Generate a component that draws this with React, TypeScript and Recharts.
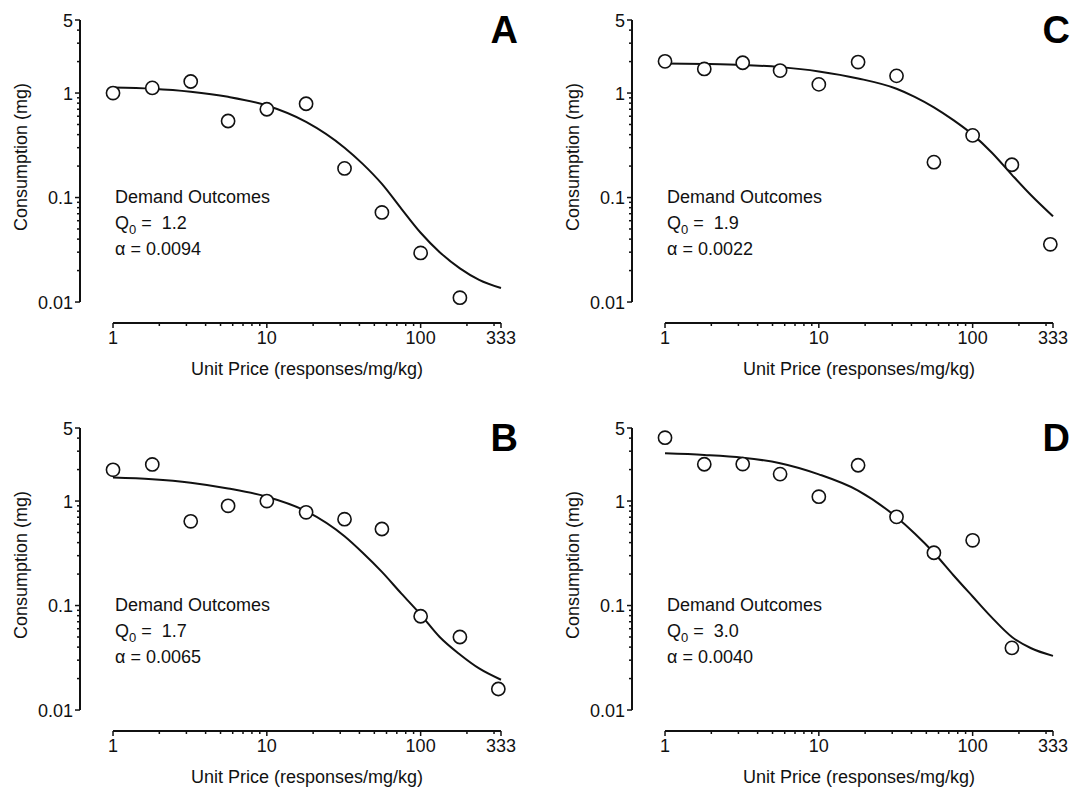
import { ComposedChart, Line, Scatter, XAxis, YAxis, ReferenceLine, Label } from 'recharts';

// unit prices where consumption was measured
const PRICE = [1, 1.8, 3.2, 5.6, 10, 18, 32, 56, 100, 180, 320];
// prices used to trace the fitted demand curve
const CURVE_PRICE = [1, 1.8, 3.2, 5.6, 10, 18, 32, 42, 56, 75, 100, 133, 180, 240, 333];

const POINTS_A = [1.0, 1.12, 1.29, 0.54, 0.7, 0.79, 0.19, 0.072, 0.0295, 0.011];
const POINTS_B = [1.99, 2.24, 0.64, 0.9, 1.0, 0.78, 0.67, 0.54, 0.079, 0.05, 0.0159];
const POINTS_C = [2.01, 1.7, 1.95, 1.64, 1.21, 1.98, 1.46, 0.218, 0.393, 0.206, 0.0357];
const POINTS_D = [4.04, 2.25, 2.26, 1.81, 1.1, 2.2, 0.706, 0.32, 0.421, 0.0393];

const CURVE_A = [1.13, 1.1, 1.03, 0.92, 0.76, 0.53, 0.3, 0.21, 0.135, 0.078, 0.046, 0.03, 0.021, 0.0163, 0.0136];
const CURVE_B = [1.68, 1.62, 1.5, 1.32, 1.1, 0.8, 0.46, 0.32, 0.21, 0.13, 0.082, 0.05, 0.034, 0.025, 0.0195];
const CURVE_C = [1.92, 1.9, 1.86, 1.77, 1.61, 1.38, 1.1, 0.92, 0.73, 0.55, 0.4, 0.27, 0.165, 0.105, 0.066];
const CURVE_D = [2.86, 2.76, 2.6, 2.3, 1.8, 1.26, 0.7, 0.49, 0.32, 0.195, 0.122, 0.077, 0.05, 0.039, 0.033];

const Q0 = { A: '1.2', B: '1.7', C: '1.9', D: '3.0' };
const ALPHA = { A: '0.0094', B: '0.0065', C: '0.0022', D: '0.0040' };

const X_MAJOR = [1, 10, 100, 333];
const X_MINOR = [2, 3, 4, 5, 6, 7, 8, 9, 20, 30, 40, 50, 60, 70, 80, 90, 200, 300];
const Y_MAJOR = [0.01, 0.1, 1, 5];
const Y_MINOR = [0.02, 0.03, 0.04, 0.05, 0.06, 0.07, 0.08, 0.09, 0.2, 0.3, 0.4, 0.5, 0.6, 0.7, 0.8, 0.9, 2, 3, 4];

const X_TICKS = [...X_MAJOR, ...X_MINOR].sort((a, b) => a - b);
const Y_TICKS = [...Y_MAJOR, ...Y_MINOR].sort((a, b) => a - b);

// axis domain extends a bit past the data so the axes sit offset from each other
const X_MIN = 0.61;
const Y_MIN = 0.0063;

const FONT = '"Liberation Sans", Arial, Helvetica, sans-serif';
const INK = '#111';

const XTick = (props: any) => {
  const { x, y, payload } = props;
  const major = X_MAJOR.includes(payload.value);
  return (
    <g>
      <line x1={x} x2={x} y1={y} y2={y + (major ? 5 : 3)} stroke={INK} strokeWidth={1.5} />
      {major && (
        <text x={x} y={y + 21} textAnchor="middle" fontSize={18} fontFamily={FONT} fill={INK}>
          {payload.value}
        </text>
      )}
    </g>
  );
};

const YTick = (props: any) => {
  const { x, y, payload } = props;
  const major = Y_MAJOR.includes(payload.value);
  return (
    <g>
      <line x1={x} x2={x - (major ? 5 : 3)} y1={y} y2={y} stroke={INK} strokeWidth={1.5} />
      {major && (
        <text x={x - 7} y={y + 6.5} textAnchor="end" fontSize={18} fontFamily={FONT} fill={INK}>
          {payload.value}
        </text>
      )}
    </g>
  );
};

const Dot = (props: any) => (
  <circle cx={props.cx} cy={props.cy} r={6.6} fill="#fff" stroke={INK} strokeWidth={1.6} />
);

interface PanelProps {
  letter: 'A' | 'B' | 'C' | 'D';
  points: number[];
  curve: number[];
  width: number;
  height: number;
}

function Panel({ letter, points, curve, width, height }: PanelProps) {
  const scatterData = points.map((y, i) => ({ x: PRICE[i], y }));
  const lineData = curve.map((y, i) => ({ x: CURVE_PRICE[i], y }));

  return (
    <ComposedChart width={width} height={height} margin={{ top: 20, right: width - 501, bottom: 0, left: 0 }}>
      <XAxis
        dataKey="x"
        type="number"
        scale="log"
        domain={[X_MIN, 333]}
        ticks={X_TICKS}
        interval={0}
        tick={<XTick />}
        tickLine={false}
        axisLine={false}
        tickSize={0}
        tickMargin={0}
        height={height - 323}
      >
        <Label
          content={() => (
            <text x={307} y={375} textAnchor="middle" fontSize={18} fontFamily={FONT} fill={INK}>
              Unit Price (responses/mg/kg)
            </text>
          )}
        />
      </XAxis>
      <YAxis
        dataKey="y"
        type="number"
        scale="log"
        domain={[Y_MIN, 5]}
        ticks={Y_TICKS}
        interval={0}
        tick={<YTick />}
        tickLine={false}
        axisLine={false}
        tickSize={0}
        tickMargin={0}
        width={80}
      >
        <Label
          content={() => (
            <text
              transform="translate(27,157) rotate(-90)"
              textAnchor="middle"
              fontSize={18}
              fontFamily={FONT}
              fill={INK}
            >
              Consumption (mg)
            </text>
          )}
        />
      </YAxis>
      <ReferenceLine
        segment={[{ x: 1, y: Y_MIN }, { x: 333, y: Y_MIN }]}
        stroke={INK}
        strokeWidth={2}
        ifOverflow="visible"
      />
      <ReferenceLine
        segment={[{ x: X_MIN, y: 0.01 }, { x: X_MIN, y: 5 }]}
        stroke={INK}
        strokeWidth={2}
        ifOverflow="visible"
      />
      <Line
        data={lineData}
        dataKey="y"
        type="monotone"
        stroke={INK}
        strokeWidth={2}
        dot={false}
        activeDot={false}
        isAnimationActive={false}
      />
      <Scatter data={scatterData} dataKey="y" shape={Dot} isAnimationActive={false} />
      <text x={115} y={203} fontSize={18} fontFamily={FONT} fill={INK}>
        Demand Outcomes
      </text>
      <text x={115} y={229} fontSize={18} fontFamily={FONT} fill={INK} style={{ whiteSpace: 'pre' }}>
        <tspan>Q</tspan>
        <tspan dy={5} fontSize={13}>0</tspan>
        <tspan dy={-5}>{' =  ' + Q0[letter]}</tspan>
      </text>
      <text x={115} y={255} fontSize={18} fontFamily={FONT} fill={INK}>
        {'α = ' + ALPHA[letter]}
      </text>
      <text x={518} y={43} textAnchor="end" fontSize={38} fontWeight="bold" fontFamily={FONT} fill="#000">
        {letter}
      </text>
    </ComposedChart>
  );
}

export default function App() {
  return (
    <div style={{ position: 'absolute', left: 0, top: 0, width: 1073, height: 788, background: '#fff', overflow: 'hidden' }}>
      <div style={{ position: 'absolute', left: 0, top: 0 }}>
        <Panel letter="A" points={POINTS_A} curve={CURVE_A} width={552} height={390} />
      </div>
      <div style={{ position: 'absolute', left: 552, top: 0 }}>
        <Panel letter="C" points={POINTS_C} curve={CURVE_C} width={521} height={390} />
      </div>
      <div style={{ position: 'absolute', left: 0, top: 408 }}>
        <Panel letter="B" points={POINTS_B} curve={CURVE_B} width={552} height={380} />
      </div>
      <div style={{ position: 'absolute', left: 552, top: 408 }}>
        <Panel letter="D" points={POINTS_D} curve={CURVE_D} width={521} height={380} />
      </div>
    </div>
  );
}
